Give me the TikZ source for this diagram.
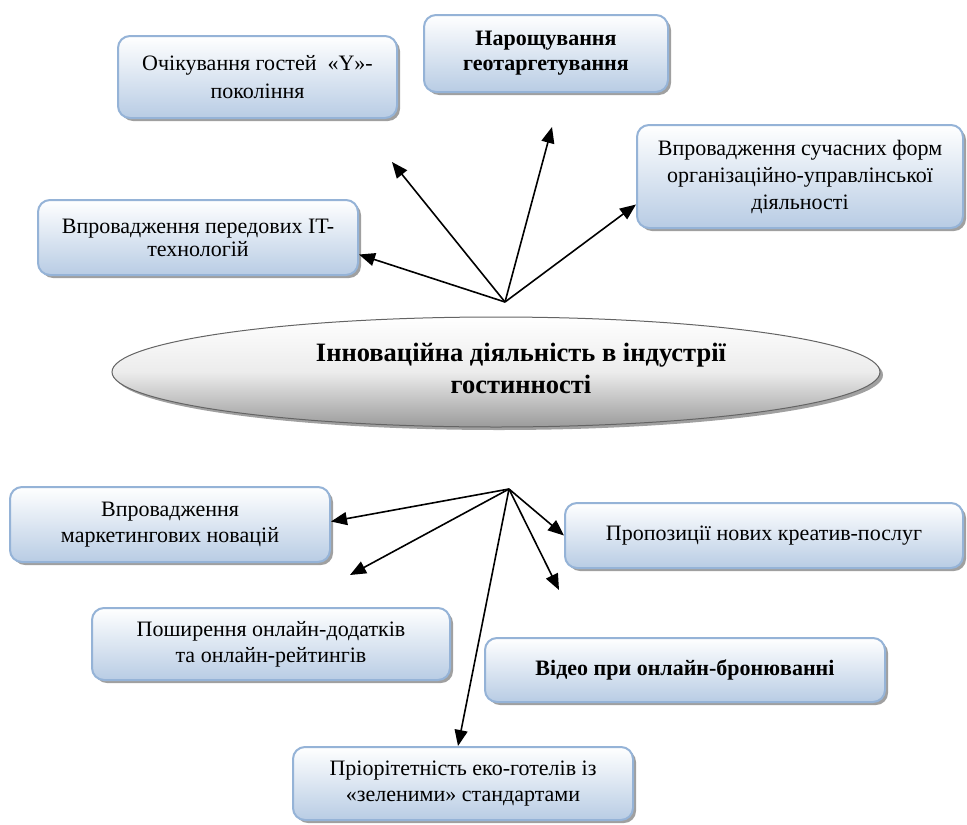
\documentclass[tikz,border=0pt]{standalone}
\usepackage{fontspec}
\setmainfont{Liberation Serif}
\usetikzlibrary{shapes.geometric,shadows,arrows.meta}
\definecolor{boxtop}{RGB}{255,255,255}
\definecolor{boxbot}{RGB}{184,204,228}
\definecolor{boxline}{RGB}{149,179,215}
\definecolor{shadowgray}{RGB}{160,160,160}
\definecolor{ellbot}{RGB}{155,155,155}
\definecolor{ellline}{RGB}{100,100,100}
\tikzset{
  boxnode/.style={rectangle, rounded corners=12pt, draw=boxline, line width=2pt,
    top color=boxtop, bottom color=boxbot, inner sep=0pt, align=center,
    font=\fontsize{22}{26}\selectfont,
    drop shadow={shadow xshift=3pt, shadow yshift=-3pt, fill=shadowgray, opacity=1}},
  ellnode/.style={ellipse, draw=ellline, line width=1pt, top color=white, bottom color=ellbot,
    middle color=gray!15, inner sep=0pt,
    drop shadow={shadow xshift=3pt, shadow yshift=-3pt, fill=shadowgray, opacity=1}},
  conn/.style={line width=1.6pt, -{Triangle[length=16pt,width=13pt]}}
}
\begin{document}
\begin{tikzpicture}[x=1pt,y=-1pt]
\useasboundingbox (0,0) rectangle (967,825);
% top boxes
\node[boxnode, minimum width=279pt, minimum height=82pt, font=\fontsize{22}{28}\selectfont] (b1) at (257.5,77)
  {Очікування гостей ~«Y»-\\покоління};
\node[boxnode, minimum width=244pt, minimum height=77pt, font=\fontsize{22}{25}\selectfont\bfseries] (b2) at (546,53.5)
  {Нарощування\\геотаргетування};
\node[boxnode, minimum width=326pt, minimum height=103pt, font=\fontsize{22}{27}\selectfont] (b3) at (800,176.5)
  {Впровадження сучасних форм\\організаційно-управлінської\\діяльності};
\node[boxnode, minimum width=320pt, minimum height=75pt, font=\fontsize{22}{23}\selectfont] (b4) at (198,237.5)
  {Впровадження передових IT-\\технологій};
% ellipse
\node[ellnode, minimum width=768pt, minimum height=110pt] (e) at (496,372) {};
\node[align=center, inner sep=0pt, font=\fontsize{26.5}{32}\selectfont\bfseries] (et) at (521,368)
  {Інноваційна діяльність в індустрії\\гостинності};
% bottom boxes
\node[boxnode, minimum width=320pt, minimum height=75pt] (b6) at (170,524.5)
  {Впровадження\\маркетингових новацій};
\node[boxnode, minimum width=398pt, minimum height=65pt] (b7) at (764,535.5)
  {Пропозиції нових креатив-послуг};
\node[boxnode, minimum width=358pt, minimum height=72pt] (b8) at (271,644)
  {Поширення онлайн-додатків\\та онлайн-рейтингів};
\node[boxnode, minimum width=400pt, minimum height=64pt, font=\fontsize{22}{26}\selectfont\bfseries] (b9) at (685,670)
  {Відео при онлайн-бронюванні};
\node[boxnode, minimum width=340pt, minimum height=73pt] (b10) at (463,783.5)
  {Пріорітетність еко-готелів із\\«зеленими» стандартами};
% connectors
\coordinate (top) at (505,302);
\coordinate (bot) at (509,489);
\coordinate (f1) at (392,162);
\coordinate (f2) at (552,127);
\coordinate (f3) at (350,575);
\coordinate (f4) at (559,590);
\draw[conn] (top) -- ([yshift=-17pt]b4.east);
\draw[conn] (top) -- (f1);
\draw[conn] (top) -- (f2);
\draw[conn] (top) -- ([yshift=-28pt]b3.west);
\draw[conn] (bot) -- ([yshift=3pt]b6.east);
\draw[conn] (bot) -- (f3);
\draw[conn] (bot) -- ([xshift=-5pt]b10.north);
\draw[conn] (bot) -- (b7.west);
\draw[conn] (bot) -- (f4);
\end{tikzpicture}
\end{document}
